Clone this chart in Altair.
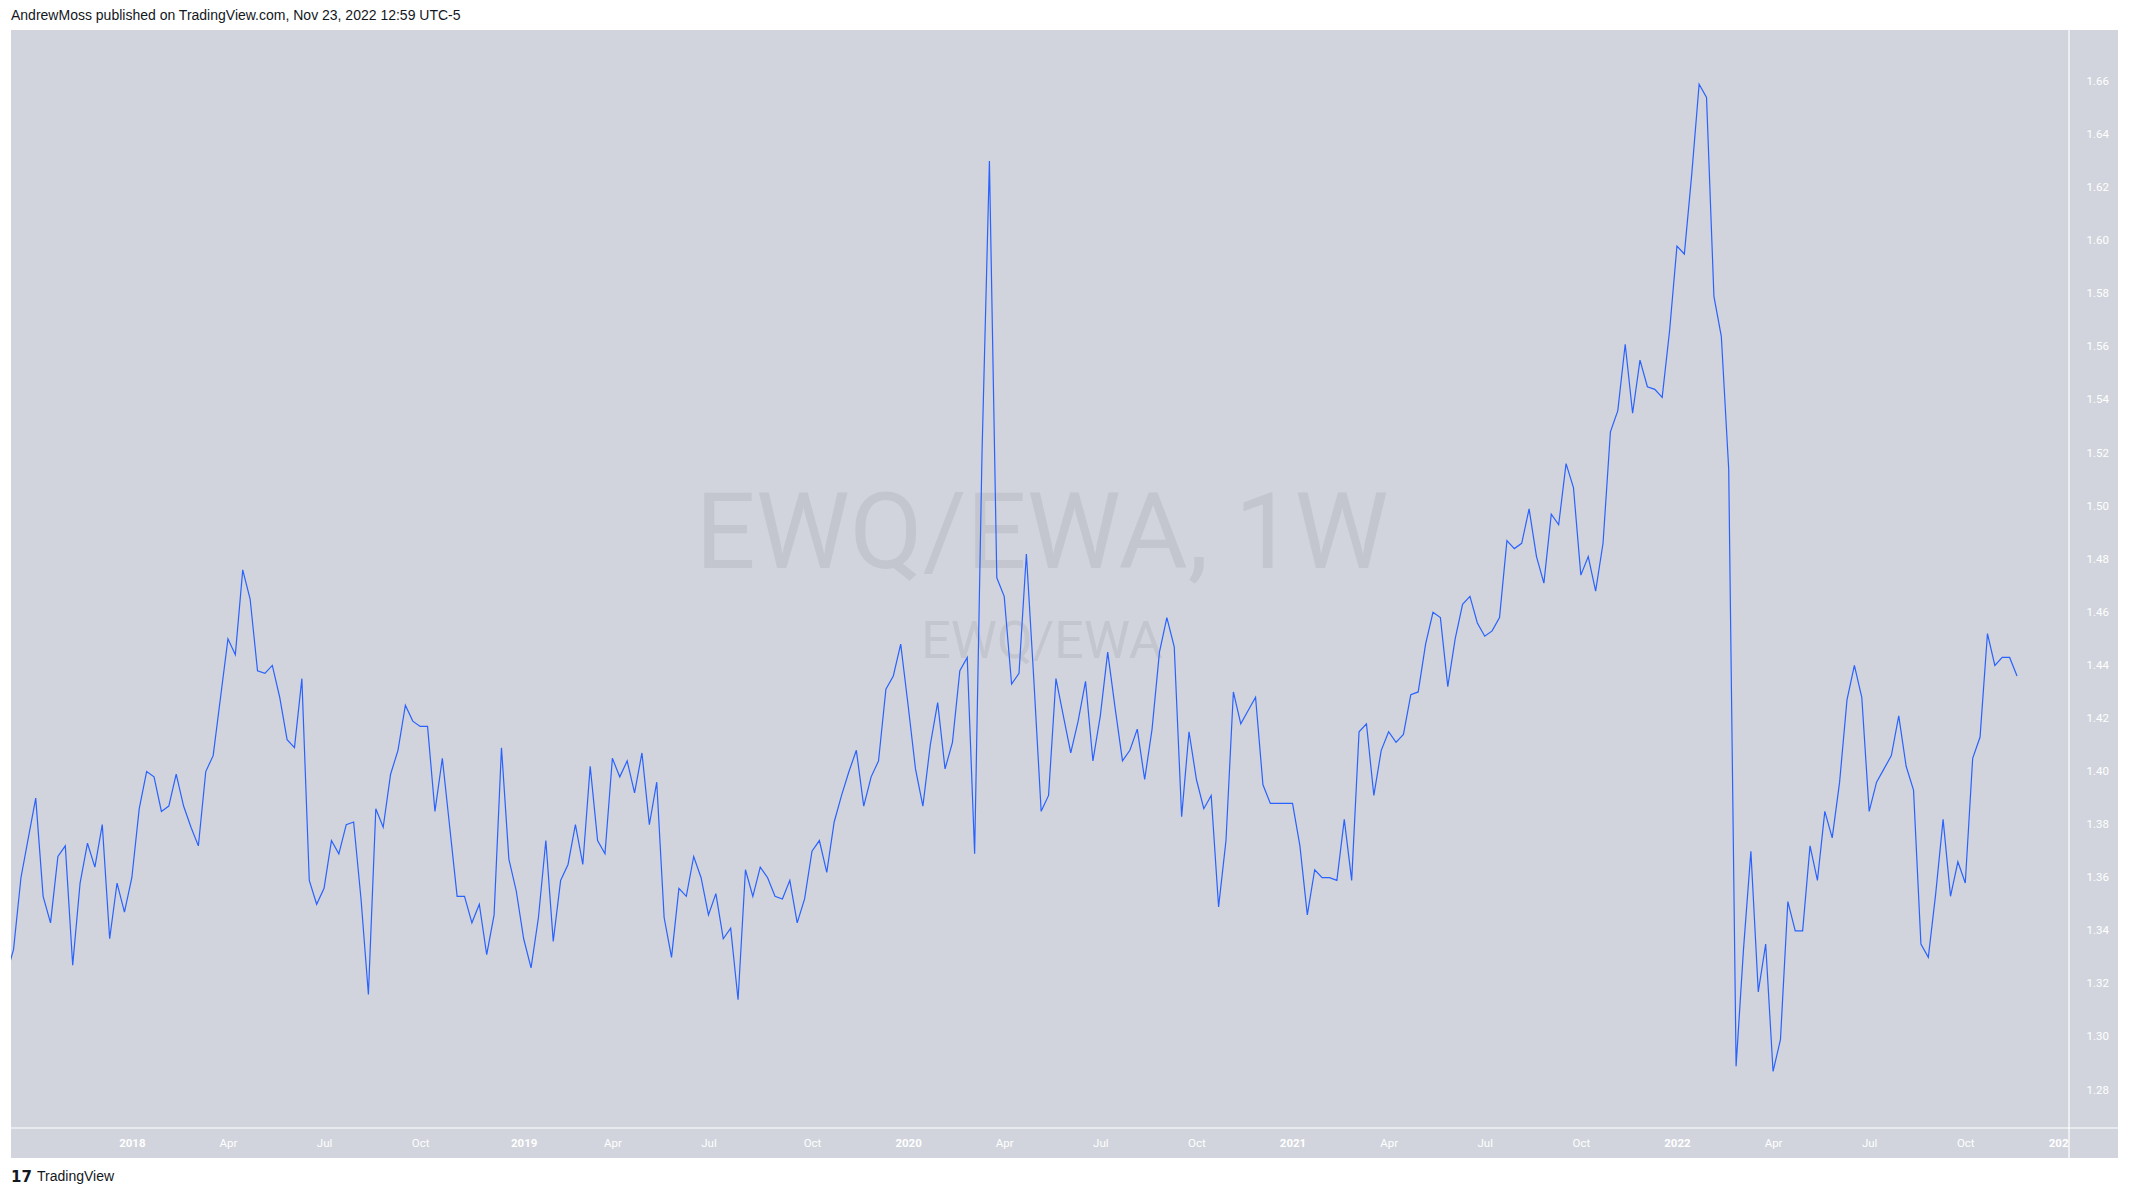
import altair as alt
import pandas as pd

# ---------------- data (weekly closes of EWQ/EWA) ----------------
first_week = "2017-09-04"
ratio = [
    1.323, 1.333, 1.360, 1.375, 1.390, 1.353, 1.343, 1.368, 1.372, 1.327,
    1.358, 1.373, 1.364, 1.380, 1.337, 1.358, 1.347,
    # 2018
    1.360, 1.386, 1.400, 1.398, 1.385, 1.387, 1.399, 1.387, 1.379, 1.372,
    1.400, 1.406, 1.428, 1.450, 1.444, 1.476, 1.465, 1.438, 1.437, 1.440,
    1.428, 1.412, 1.409, 1.435, 1.359, 1.350, 1.356, 1.374, 1.369, 1.380,
    1.381, 1.352, 1.316, 1.386, 1.379, 1.399, 1.408, 1.425, 1.419, 1.417,
    1.417, 1.385, 1.405, 1.379, 1.353, 1.353, 1.343, 1.350, 1.331, 1.346,
    1.409, 1.367, 1.355,
    # 2019
    1.337, 1.326, 1.345, 1.374, 1.336, 1.359, 1.365, 1.380, 1.365, 1.402,
    1.374, 1.369, 1.405, 1.398, 1.404, 1.392, 1.407, 1.380, 1.396, 1.345,
    1.330, 1.356, 1.353, 1.368, 1.360, 1.346, 1.354, 1.337, 1.341, 1.314,
    1.363, 1.353, 1.364, 1.360, 1.353, 1.352, 1.359, 1.343, 1.352, 1.370,
    1.374, 1.362, 1.381, 1.391, 1.400, 1.408, 1.387, 1.398, 1.404, 1.431,
    1.436, 1.448,
    # 2020
    1.425, 1.401, 1.387, 1.410, 1.426, 1.401, 1.411, 1.438, 1.443, 1.369,
    1.520, 1.630, 1.473, 1.466, 1.433, 1.437, 1.482, 1.435, 1.385, 1.391,
    1.435, 1.421, 1.407, 1.419, 1.434, 1.404, 1.421, 1.445, 1.424, 1.404,
    1.408, 1.416, 1.397, 1.416, 1.445, 1.458, 1.447, 1.383, 1.415, 1.397,
    1.386, 1.391, 1.349, 1.374, 1.430, 1.418, 1.423, 1.428, 1.395, 1.388,
    1.388, 1.388,
    # 2021
    1.388, 1.372, 1.346, 1.363, 1.360, 1.360, 1.359, 1.382, 1.359, 1.415,
    1.418, 1.391, 1.408, 1.415, 1.411, 1.414, 1.429, 1.430, 1.448, 1.460,
    1.458, 1.432, 1.450, 1.463, 1.466, 1.456, 1.451, 1.453, 1.458, 1.487,
    1.484, 1.486, 1.499, 1.481, 1.471, 1.497, 1.493, 1.516, 1.507, 1.474,
    1.481, 1.468, 1.486, 1.528, 1.536, 1.561, 1.535, 1.555, 1.545, 1.544,
    1.541, 1.566,
    # 2022
    1.598, 1.595, 1.625, 1.659, 1.654, 1.579, 1.564, 1.514, 1.289, 1.333,
    1.370, 1.317, 1.335, 1.287, 1.299, 1.351, 1.340, 1.340, 1.372, 1.359,
    1.385, 1.375, 1.396, 1.427, 1.440, 1.428, 1.385, 1.396, 1.401, 1.406,
    1.421, 1.402, 1.393, 1.335, 1.330, 1.354, 1.382, 1.353, 1.366, 1.358,
    1.405, 1.413, 1.452, 1.440, 1.443, 1.443, 1.436,
]

tick_dates = [
    "2018-01-01", "2018-04-02", "2018-07-02", "2018-10-01",
    "2019-01-07", "2019-04-01", "2019-07-01", "2019-10-07",
    "2020-01-06", "2020-04-06", "2020-07-06", "2020-10-05",
    "2021-01-04", "2021-04-05", "2021-07-05", "2021-10-04",
    "2022-01-03", "2022-04-04", "2022-07-04", "2022-10-03",
    "2023-01-02",
]
y_ticks = [1.28, 1.30, 1.32, 1.34, 1.36, 1.38, 1.40, 1.42, 1.44, 1.46,
           1.48, 1.50, 1.52, 1.54, 1.56, 1.58, 1.60, 1.62, 1.64, 1.66]

header_text = "AndrewMoss published on TradingView.com, Nov 23, 2022 12:59 UTC-5"
watermark_main = "EWQ/EWA, 1W"
watermark_sub = "EWQ/EWA"
footer_logo = "17"
footer_text = "TradingView"

x_domain = ["2017-09-08 14:00", "2023-01-09 05:00"]
y_domain = [1.2657, 1.6794]


def ms(ts):
    return int(pd.Timestamp(ts).value // 10**6)


weeks = pd.date_range(first_week, periods=len(ratio), freq="7D")
df = pd.DataFrame({"t": [ms(w) for w in weeks], "v": ratio})
one = pd.DataFrame({"k": [0]})

# ---------------- layout constants ----------------
W, H = 2058, 1098          # plot area
PANEL_R, PANEL_B = 2107, 1128   # gray panel extent (relative to plot origin)
BG = "#D1D4DC"
LINE = "#2962FF"
WM = "#C3C6CE"
TXT = "#131722"


def rect(x, x2, y, y2, color):
    return alt.Chart(one).mark_rect(color=color, strokeWidth=0).encode(
        x=alt.value(x), x2=alt.value(x2), y=alt.value(y), y2=alt.value(y2))


def text(t, x, y, size, color, weight="normal", font="Roboto", align="left", baseline="middle"):
    return alt.Chart(one).mark_text(
        text=t, fontSize=size, color=color, fontWeight=weight, font=font,
        align=align, baseline=baseline).encode(x=alt.value(x), y=alt.value(y))


x_axis = alt.Axis(
    values=[ms(d) for d in tick_dates],
    labelExpr="utcmonth(datum.value) === 0 ? utcFormat(datum.value, '%Y') : utcFormat(datum.value, '%b')",
    labelFontWeight={"condition": {"test": "utcmonth(datum.value) === 0", "value": "bold"}, "value": "normal"},
    labelColor="#FFFFFF", labelFont="Roboto", labelFontSize=11.5,
    ticks=False, tickSize=0, domain=False, grid=False, labelPadding=9,
    labelOverlap=False, title=None,
)
y_axis = alt.Axis(
    orient="right", values=y_ticks, format=".2f",
    labelColor="#FFFFFF", labelFont="Roboto", labelFontSize=11.5, labelAlign="left",
    ticks=False, tickSize=0, domain=False, grid=False, labelPadding=17,
    labelOverlap=False, title=None,
)

line = alt.Chart(df).mark_line(color=LINE, strokeWidth=1.2, clip=True).encode(
    x=alt.X("t:T", scale=alt.Scale(type="utc", domain=[ms(x_domain[0]), ms(x_domain[1])], nice=False), axis=x_axis),
    y=alt.Y("v:Q", scale=alt.Scale(domain=y_domain, zero=False, nice=False), axis=y_axis),
)

wm1 = text(watermark_main, 1031, 538, 106, WM, align="center", baseline="alphabetic")
wm2 = text(watermark_sub, 1031, 628, 52, WM, align="center", baseline="alphabetic")

# white page areas around the gray panel
white_top = rect(-3, 2115, -22, 0, "#FFFFFF")
white_bottom = rect(-3, 2115, PANEL_B, 1160, "#FFFFFF")
white_left = rect(-3, 0, 0, PANEL_B, "#FFFFFF")
white_right = rect(PANEL_R, 2115, 0, PANEL_B, "#FFFFFF")
corner = rect(W, PANEL_R, H, PANEL_B, BG)

sep_h = alt.Chart(one).mark_rule(color="#FFFFFF", strokeWidth=1.2).encode(
    x=alt.value(0), x2=alt.value(PANEL_R), y=alt.value(H))
sep_v = alt.Chart(one).mark_rule(color="#FFFFFF", strokeWidth=1.2).encode(
    x=alt.value(W), y=alt.value(0), y2=alt.value(PANEL_B))

header = text(header_text, 0, -14, 14, TXT, font="Liberation Sans")
logo = text(footer_logo, 0, 1147, 15, TXT, weight="bold", font="DejaVu Sans")
footer = text(footer_text, 26, 1147, 14, TXT, font="Liberation Sans")

chart = alt.layer(
    white_top, white_bottom, white_left, white_right,
    wm1, wm2, line, corner, sep_h, sep_v, header, logo, footer,
).properties(
    width=W, height=H,
    autosize=alt.AutoSizeParams(type="none"),
    padding={"left": 3, "top": 22, "right": 52, "bottom": 60},
    background=BG,
).configure_view(stroke=None)

chart.save("out.html", embed_options={"renderer": "svg", "actions": False})
